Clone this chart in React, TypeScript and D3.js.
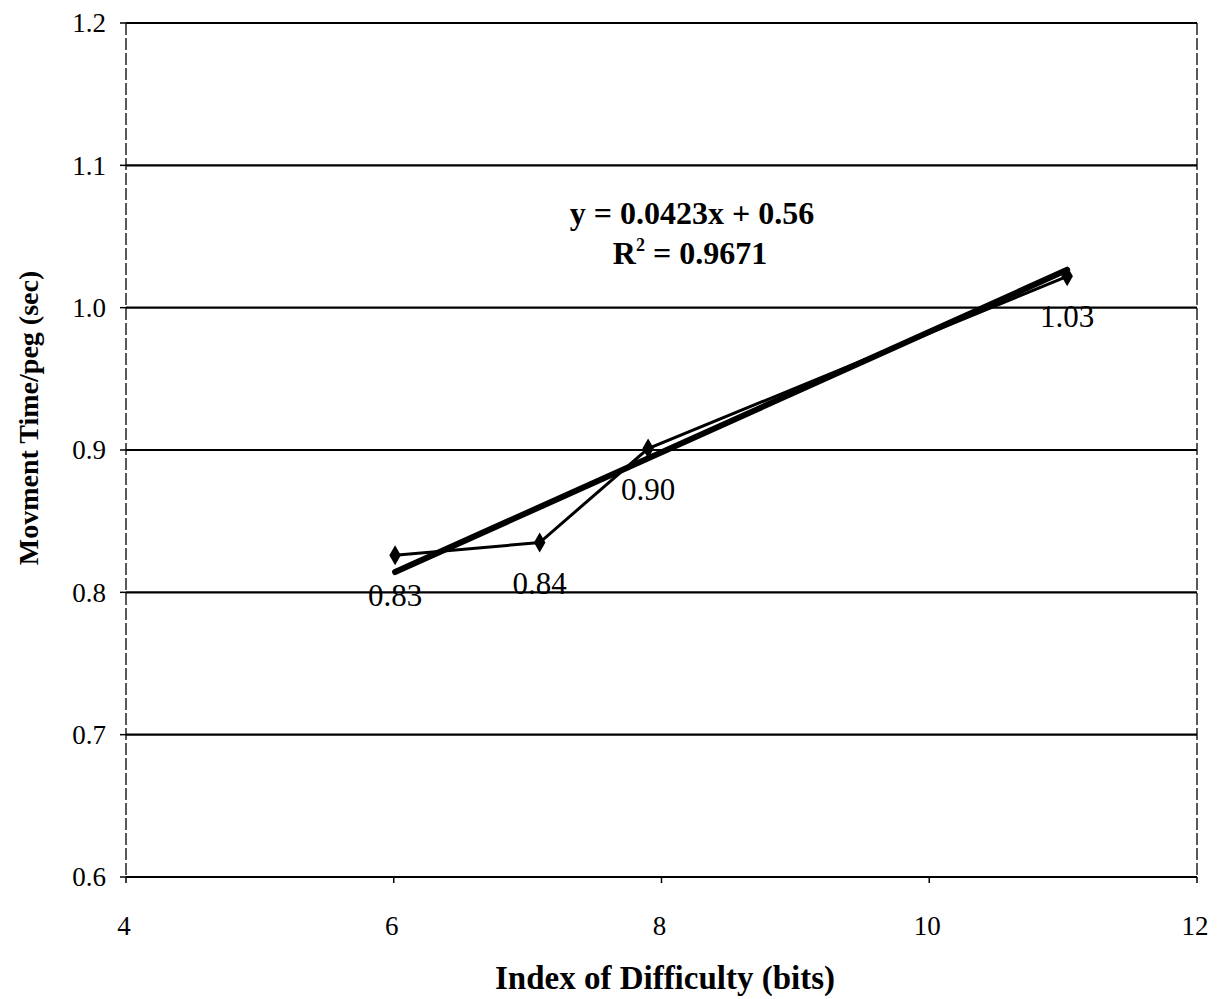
import React from "react";
import * as d3 from "d3";

// Index of difficulty (bits) vs movement time per peg (sec)
const idBits = [6.01, 7.09, 7.9, 11.03];
const moveTime = [0.826, 0.835, 0.901, 1.022];
const pointLabels = ["0.83", "0.84", "0.90", "1.03"];
const xTicks = [4, 6, 8, 10, 12];
const yTicks = [0.6, 0.7, 0.8, 0.9, 1.0, 1.1, 1.2];
const trendSlope = 0.0423;
const trendIntercept = 0.56;
const equationLines = ["y = 0.0423x + 0.56", "R", "2", " = 0.9671"];

const width = 1219;
const height = 999;
const serif = "'Liberation Serif', 'Times New Roman', serif";

const App: React.FC = () => {
  const x = d3.scaleLinear().domain([4, 12]).range([126, 1197]);
  const y = d3.scaleLinear().domain([0.6, 1.2]).range([877, 23]);

  const pts = idBits.map((d, i) => [d, moveTime[i]] as [number, number]);
  const line = d3
    .line<[number, number]>()
    .x((d) => x(d[0]))
    .y((d) => y(d[1]));

  const xMin = d3.min(idBits)!;
  const xMax = d3.max(idBits)!;
  const trend: [number, number][] = [
    [xMin, trendSlope * xMin + trendIntercept],
    [xMax, trendSlope * xMax + trendIntercept],
  ];

  const diamond = d3.symbol().type(d3.symbolDiamond).size(115)()!;
  const [x0, x1] = x.range();
  const [yBottom, yTop] = y.range();

  return (
    <svg
      width={width}
      height={height}
      style={{ position: "absolute", left: 0, top: 0, background: "#fff" }}
      fontFamily={serif}
    >
      <rect width={width} height={height} fill="#fff" />

      {/* horizontal gridlines */}
      {yTicks.map((t) => (
        <line
          key={"g" + t}
          x1={x0}
          x2={x1}
          y1={y(t)}
          y2={y(t)}
          stroke="#000"
          strokeWidth={2.2}
        />
      ))}

      {/* left / right dashed borders */}
      <line x1={x0} x2={x0} y1={yTop} y2={yBottom} stroke="#000" strokeWidth={1.3} strokeDasharray="12,3" />
      <line x1={x1} x2={x1} y1={yTop} y2={yBottom} stroke="#000" strokeWidth={1.3} strokeDasharray="12,3" />

      {/* y ticks + labels */}
      {yTicks.map((t) => (
        <g key={"y" + t}>
          <line x1={x0 - 6} x2={x0} y1={y(t)} y2={y(t)} stroke="#000" strokeWidth={1.5} />
          <text x={106} y={y(t)} dy="0.35em" textAnchor="end" fontSize={27}>
            {d3.format(".1f")(t)}
          </text>
        </g>
      ))}

      {/* x ticks + labels */}
      {xTicks.map((t) => (
        <g key={"x" + t}>
          <line x1={x(t)} x2={x(t)} y1={yBottom} y2={yBottom + 6} stroke="#000" strokeWidth={1.5} />
          <text x={x(t) - 2} y={935} textAnchor="middle" fontSize={27}>
            {t}
          </text>
        </g>
      ))}

      {/* data series */}
      <path d={line(pts)!} fill="none" stroke="#000" strokeWidth={3} />
      {pts.map((p, i) => (
        <path key={"m" + i} d={diamond} transform={`translate(${x(p[0])},${y(p[1])})`} fill="#000" />
      ))}

      {/* linear trendline */}
      <path d={line(trend)!} fill="none" stroke="#000" strokeWidth={6} strokeLinecap="round" />

      {/* data labels */}
      {pts.map((p, i) => (
        <text key={"l" + i} x={x(p[0])} y={y(p[1]) + 51} textAnchor="middle" fontSize={31}>
          {pointLabels[i]}
        </text>
      ))}

      {/* trend equation */}
      <text x={692} y={224} textAnchor="middle" fontSize={32} fontWeight="bold">
        {equationLines[0]}
      </text>
      <text x={690} y={264} textAnchor="middle" fontSize={32} fontWeight="bold">
        {equationLines[1]}
        <tspan fontSize={18} dy={-13}>
          {equationLines[2]}
        </tspan>
        <tspan dy={13}>{equationLines[3]}</tspan>
      </text>

      {/* axis titles */}
      <text x={665} y={989} textAnchor="middle" fontSize={33} fontWeight="bold">
        Index of Difficulty (bits)
      </text>
      <text
        transform={`translate(38,418) rotate(-90)`}
        textAnchor="middle"
        fontSize={28}
        fontWeight="bold"
      >
        Movment Time/peg (sec)
      </text>
    </svg>
  );
};

export default App;
